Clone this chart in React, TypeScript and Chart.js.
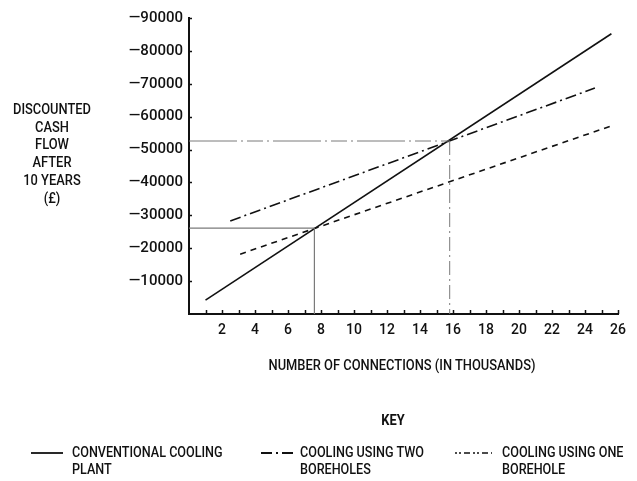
import React, { useEffect, useRef } from "react";
import { Chart, registerables } from "chart.js";

Chart.register(...registerables);

// Data (x in thousands of connections, y in £ discounted cash flow)
const conventionalX = [1, 25.6];
const conventionalY = [-4200, -85200];
const twoBoreholesX = [2.5, 24.6];
const twoBoreholesY = [-28300, -68700];
const oneBoreholeX = [3.1, 25.6];
const oneBoreholeY = [-18200, -57200];
// break-even markers
const breakEvenX = [7.6, 15.8];
const breakEvenY = [-26100, -52600];

const xTickValues = [2, 4, 6, 8, 10, 12, 14, 16, 18, 20, 22, 24, 26];
const yTickValues = [-10000, -20000, -30000, -40000, -50000, -60000, -70000, -80000, -90000];

const FONT = "Roboto, 'Liberation Sans Narrow', Arial, sans-serif";

const pts = (xs: number[], ys: number[]) => xs.map((x, i) => ({ x, y: ys[i] }));

const innerTicks = {
  id: "innerTicks",
  afterDraw(chart: any) {
    const { ctx, scales, chartArea } = chart;
    const xs = scales.x;
    const ys = scales.y;
    ctx.save();
    ctx.strokeStyle = "#111";
    ctx.lineWidth = 1.5;
    for (let i = 1; i <= 26; i++) {
      const px = Math.round(xs.getPixelForValue(i)) + 0.5;
      ctx.beginPath();
      ctx.moveTo(px, chartArea.bottom);
      ctx.lineTo(px, chartArea.bottom - 4);
      ctx.stroke();
    }
    for (const v of yTickValues) {
      const py = Math.round(ys.getPixelForValue(v)) + 0.5;
      ctx.beginPath();
      ctx.moveTo(chartArea.left, py);
      ctx.lineTo(chartArea.left + 3, py);
      ctx.stroke();
    }
    ctx.restore();
  },
};

export default function App() {
  const ref = useRef<HTMLCanvasElement>(null);

  useEffect(() => {
    document.body.style.margin = "0";
    const canvas = ref.current!;
    const chart = new Chart(canvas, {
      type: "line",
      data: {
        datasets: [
          {
            label: "ref-h1",
            data: [{ x: 0, y: breakEvenY[1] }, { x: breakEvenX[1], y: breakEvenY[1] }],
            borderColor: "#7a7a7a",
            borderWidth: 1,
            borderDash: [48, 4, 2, 4, 16, 4, 2, 4],
            pointRadius: 0,
          },
          {
            label: "ref-v1",
            data: [{ x: breakEvenX[1], y: breakEvenY[1] }, { x: breakEvenX[1], y: 0 }],
            borderColor: "#7a7a7a",
            borderWidth: 1,
            borderDash: [14, 4, 2, 4],
            pointRadius: 0,
          },
          {
            label: "ref-h2",
            data: [{ x: 0, y: breakEvenY[0] }, { x: breakEvenX[0], y: breakEvenY[0] }],
            borderColor: "#7a7a7a",
            borderWidth: 1.2,
            pointRadius: 0,
          },
          {
            label: "ref-v2",
            data: [{ x: breakEvenX[0], y: breakEvenY[0] }, { x: breakEvenX[0], y: 0 }],
            borderColor: "#7a7a7a",
            borderWidth: 1.2,
            pointRadius: 0,
          },
          {
            label: "CONVENTIONAL COOLING PLANT",
            data: pts(conventionalX, conventionalY),
            borderColor: "#111",
            borderWidth: 1.6,
            pointRadius: 0,
          },
          {
            label: "COOLING USING TWO BOREHOLES",
            data: pts(twoBoreholesX, twoBoreholesY),
            borderColor: "#111",
            borderWidth: 1.6,
            borderDash: [11, 4, 2, 4],
            pointRadius: 0,
          },
          {
            label: "COOLING USING ONE BOREHOLE",
            data: pts(oneBoreholeX, oneBoreholeY),
            borderColor: "#111",
            borderWidth: 1.6,
            borderDash: [6, 5],
            pointRadius: 0,
          },
        ],
      },
      options: {
        animation: false,
        responsive: false,
        devicePixelRatio: 1,
        layout: { padding: { top: 18, right: 19, bottom: 0, left: 0 } },
        plugins: { legend: { display: false }, tooltip: { enabled: false } },
        scales: {
          x: {
            type: "linear",
            min: 0,
            max: 26,
            afterFit: (s: any) => { s.height = 167; },
            afterBuildTicks: (s: any) => { s.ticks = xTickValues.map((v) => ({ value: v })); },
            grid: { drawOnChartArea: false, drawTicks: false },
            border: { display: true, color: "#111", width: 2 },
            ticks: {
              padding: 8,
              color: "#111",
              font: { family: FONT, size: 14, weight: "500" },
              maxRotation: 0,
              autoSkip: false,
              callback: (v: any) => String(v),
            },
          },
          y: {
            type: "linear",
            min: -90000,
            max: 0,
            reverse: true,
            afterFit: (s: any) => { s.width = 189; },
            afterBuildTicks: (s: any) => { s.ticks = yTickValues.map((v) => ({ value: v })); },
            grid: { drawOnChartArea: false, drawTicks: false },
            border: { display: true, color: "#111", width: 2 },
            ticks: {
              padding: 6,
              color: "#111",
              font: { family: FONT, size: 15, weight: "500" },
              autoSkip: false,
              callback: (v: any) => "\u2014" + Math.abs(Number(v)),
            },
          },
        },
      },
      plugins: [innerTicks],
    });
    return () => chart.destroy();
  }, []);

  const text: React.CSSProperties = {
    position: "absolute",
    fontFamily: FONT,
    fontSize: 14,
    fontWeight: 500,
    color: "#111",
    whiteSpace: "nowrap",
    lineHeight: "17px",
  };
  const narrowLeft: React.CSSProperties = { transform: "scaleX(0.9)", transformOrigin: "0 0" };
  const narrowCenter: React.CSSProperties = { transform: "scaleX(0.92)", transformOrigin: "50% 0" };

  return (
    <div style={{ position: "relative", width: 637, height: 481, background: "#fff", overflow: "hidden" }}>
      <canvas ref={ref} width={637} height={481} style={{ position: "absolute", left: 0, top: 0 }} />
      <div style={{ ...text, ...narrowCenter, left: 0, top: 101, width: 104, textAlign: "center", lineHeight: "17.7px" }}>
        DISCOUNTED<br />CASH<br />FLOW<br />AFTER<br />10 YEARS<br />(£)
      </div>
      <div style={{ ...text, ...narrowCenter, left: 202, top: 357, width: 400, textAlign: "center" }}>
        NUMBER OF CONNECTIONS (IN THOUSANDS)
      </div>
      <div style={{ ...text, ...narrowCenter, left: 343, top: 412, width: 100, textAlign: "center", fontWeight: "bold" }}>KEY</div>
      <svg width={637} height={30} style={{ position: "absolute", left: 0, top: 440 }}>
        <line x1={31} y1={13} x2={63} y2={13} stroke="#111" strokeWidth={1.8} />
        <line x1={261} y1={13} x2={293} y2={13} stroke="#111" strokeWidth={1.8} strokeDasharray="11 4 2 4" />
        <line x1={455} y1={13} x2={492} y2={13} stroke="#111" strokeWidth={1.5} strokeDasharray="2 2 2 3 6 3" />
      </svg>
      <div style={{ ...text, ...narrowLeft, left: 72, top: 444 }}>CONVENTIONAL COOLING<br />PLANT</div>
      <div style={{ ...text, ...narrowLeft, left: 300, top: 444 }}>COOLING USING TWO<br />BOREHOLES</div>
      <div style={{ ...text, ...narrowLeft, left: 502, top: 444 }}>COOLING USING ONE<br />BOREHOLE</div>
    </div>
  );
}
